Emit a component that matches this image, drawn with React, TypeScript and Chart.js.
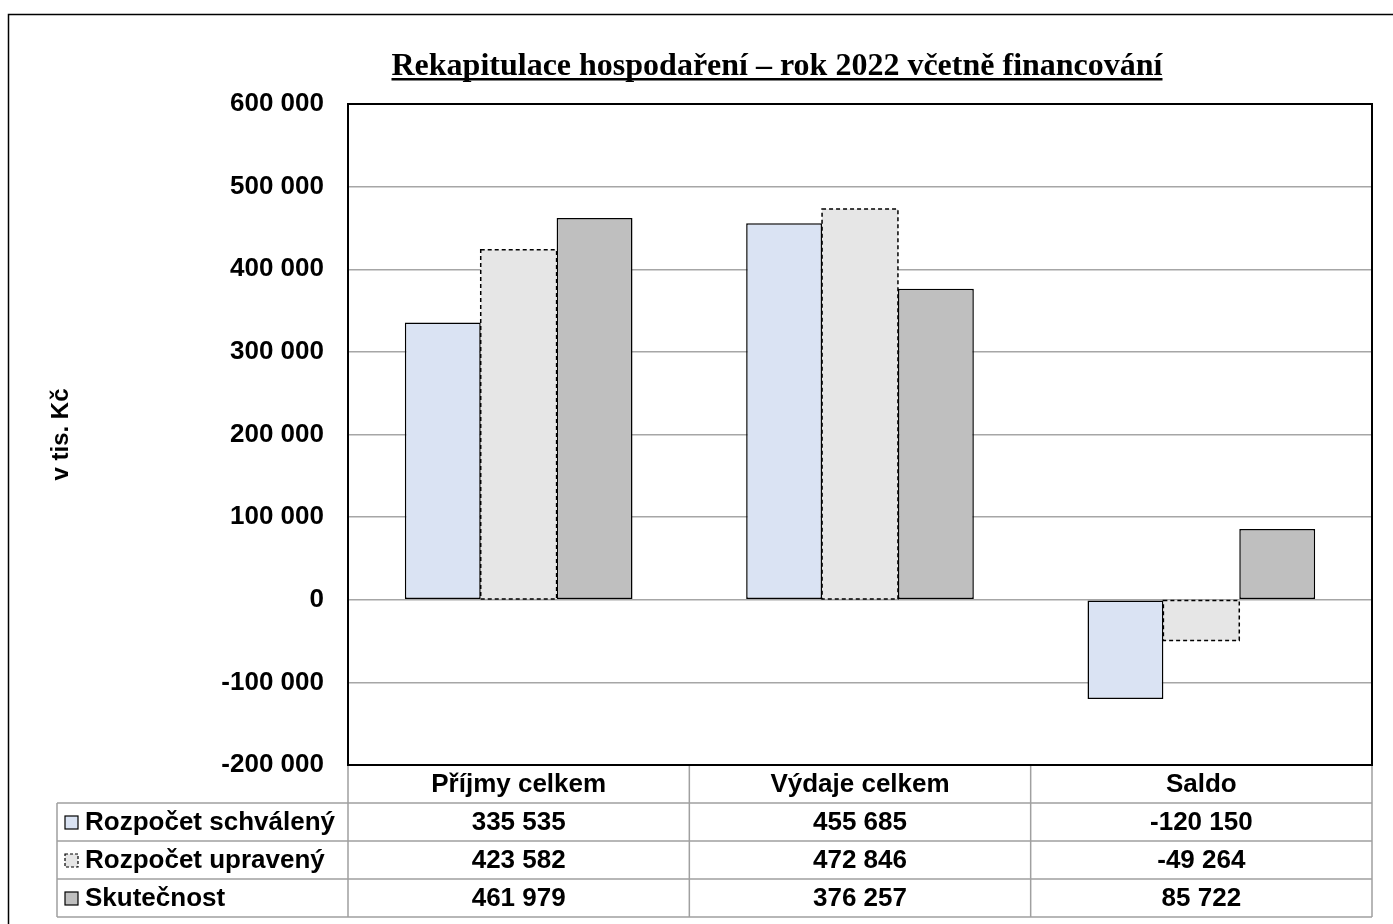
import React, { useEffect, useRef } from 'react';
import { Chart, registerables } from 'chart.js';

Chart.register(...registerables);

const TITLE = 'Rekapitulace hospodaření – rok 2022 včetně financování';
const Y_TITLE = 'v tis. Kč';
const categories = ['Příjmy celkem', 'Výdaje celkem', 'Saldo'];
const seriesNames = ['Rozpočet schválený', 'Rozpočet upravený', 'Skutečnost'];
const schvaleny = [335535, 455685, -120150];
const upraveny = [423582, 472846, -49264];
const skutecnost = [461979, 376257, 85722];
const Y_MIN = -200000;
const Y_MAX = 600000;
const Y_STEP = 100000;

const SANS = '"Liberation Sans", Arial, sans-serif';
const SERIF = '"Liberation Serif", "Times New Roman", serif';
const COLORS = ['#dae3f3', '#e6e6e6', '#bfbfbf'];
const DASHED = [false, true, false];

const fmt = (n: number) => {
  const s = Math.abs(Math.round(n)).toString().replace(/\B(?=(\d{3})+(?!\d))/g, ' ');
  return (n < 0 ? '-' : '') + s;
};

const decor = {
  id: 'decor',
  beforeDraw(chart: any) {
    const ctx = chart.ctx;
    ctx.save();
    ctx.fillStyle = '#fff';
    ctx.fillRect(0, 0, chart.width, chart.height);
    ctx.strokeStyle = '#000';
    ctx.lineWidth = 1.5;
    ctx.strokeRect(8.5, 14.5, chart.width + 100, chart.height + 100);
    ctx.restore();
  },
  afterDatasetsDraw(chart: any) {
    const ctx = chart.ctx;
    chart.data.datasets.forEach((_: any, di: number) => {
      if (!DASHED[di]) return;
      const meta = chart.getDatasetMeta(di);
      ctx.save();
      ctx.setLineDash([4, 3]);
      ctx.lineWidth = 1.5;
      ctx.strokeStyle = '#000';
      meta.data.forEach((el: any) => {
        const { x, y, base, width } = el.getProps(['x', 'y', 'base', 'width'], true);
        const top = Math.min(y, base);
        const h = Math.abs(base - y);
        ctx.strokeRect(x - width / 2, top, width, h);
      });
      ctx.restore();
    });
  },
  afterDraw(chart: any) {
    const ctx = chart.ctx;
    const a = chart.chartArea;
    ctx.save();
    // plot border
    ctx.strokeStyle = '#000';
    ctx.lineWidth = 2;
    ctx.strokeRect(a.left, a.top, a.right - a.left, a.bottom - a.top);

    // title with underline
    ctx.font = `bold 32px ${SERIF}`;
    ctx.fillStyle = '#000';
    ctx.textAlign = 'center';
    ctx.textBaseline = 'alphabetic';
    const tx = 777;
    const ty = 75;
    ctx.fillText(TITLE, tx, ty);
    const tw = ctx.measureText(TITLE).width;
    ctx.fillRect(tx - tw / 2, ty + 3, tw, 2.5);

    // data table
    const n = categories.length;
    const colW = (a.right - a.left) / n;
    const rowH = 38;
    const top0 = a.bottom;
    const labelLeft = 57;
    const rows = seriesNames.length;
    ctx.strokeStyle = '#a0a0a0';
    ctx.lineWidth = 1.5;
    ctx.setLineDash([]);
    ctx.beginPath();
    for (let i = 0; i <= n; i++) {
      const x = a.left + i * colW;
      ctx.moveTo(x, top0 + 1);
      ctx.lineTo(x, top0 + (rows + 1) * rowH);
    }
    ctx.moveTo(labelLeft, top0 + rowH);
    ctx.lineTo(labelLeft, top0 + (rows + 1) * rowH);
    for (let k = 1; k <= rows + 1; k++) {
      const y = top0 + k * rowH;
      ctx.moveTo(labelLeft, y);
      ctx.lineTo(a.right, y);
    }
    ctx.stroke();

    ctx.fillStyle = '#000';
    ctx.font = `bold 26px ${SANS}`;
    ctx.textBaseline = 'middle';
    ctx.textAlign = 'center';
    categories.forEach((c, i) => {
      ctx.fillText(c, a.left + (i + 0.5) * colW, top0 + 0.5 * rowH + 1);
    });
    chart.data.datasets.forEach((ds: any, r: number) => {
      const cy = top0 + (r + 1.5) * rowH + 1;
      // marker
      ctx.save();
      ctx.fillStyle = COLORS[r];
      ctx.fillRect(65, cy - 7, 13, 13);
      ctx.strokeStyle = '#000';
      ctx.lineWidth = 1.2;
      if (DASHED[r]) ctx.setLineDash([3, 2]);
      ctx.strokeRect(65, cy - 7, 13, 13);
      ctx.restore();
      ctx.fillStyle = '#000';
      ctx.textAlign = 'left';
      ctx.fillText(seriesNames[r], 85, cy);
      ctx.textAlign = 'center';
      ds.data.forEach((v: number, i: number) => {
        ctx.fillText(fmt(v), a.left + (i + 0.5) * colW, cy);
      });
    });
    ctx.restore();
  },
};

export default function App() {
  const ref = useRef<HTMLCanvasElement | null>(null);
  useEffect(() => {
    if (!ref.current) return;
    Chart.defaults.font.family = SANS;
    const chart = new Chart(ref.current, {
      type: 'bar',
      data: {
        labels: categories,
        datasets: [
          {
            label: seriesNames[0],
            data: schvaleny,
            backgroundColor: COLORS[0],
            borderColor: '#000',
            borderWidth: 1.5,
            borderSkipped: false,
          },
          {
            label: seriesNames[1],
            data: upraveny,
            backgroundColor: COLORS[1],
            borderWidth: 0,
            borderSkipped: false,
          },
          {
            label: seriesNames[2],
            data: skutecnost,
            backgroundColor: COLORS[2],
            borderColor: '#000',
            borderWidth: 1.5,
            borderSkipped: false,
          },
        ],
      },
      options: {
        responsive: false,
        animation: false,
        devicePixelRatio: 1,
        layout: { padding: { left: 0, top: 104, right: 21, bottom: 159 } },
        datasets: { bar: { categoryPercentage: 0.667, barPercentage: 1.0 } },
        plugins: {
          legend: { display: false },
          title: { display: false },
          tooltip: { enabled: false },
        },
        scales: {
          x: { display: false },
          y: {
            min: Y_MIN,
            max: Y_MAX,
            afterFit: (scale: any) => {
              scale.width = 348;
            },
            ticks: {
              stepSize: Y_STEP,
              padding: 24,
              color: '#000',
              font: { family: SANS, size: 26, weight: 'bold' },
              callback: (v: any) => fmt(Number(v)),
            },
            grid: { drawTicks: false, color: '#a6a6a6', lineWidth: 1.5 },
            border: { display: false },
            title: {
              display: true,
              text: Y_TITLE,
              color: '#000',
              font: { family: SANS, size: 24, weight: 'bold' },
              padding: { top: 47, bottom: 0 },
            },
          },
        },
      },
      plugins: [decor],
    } as any);
    return () => chart.destroy();
  }, []);
  return (
    <div style={{ position: 'absolute', left: 0, top: 0, width: 1393, height: 924, overflow: 'hidden', background: '#fff' }}>
      <canvas ref={ref} width={1393} height={924} style={{ display: 'block' }} />
    </div>
  );
}
